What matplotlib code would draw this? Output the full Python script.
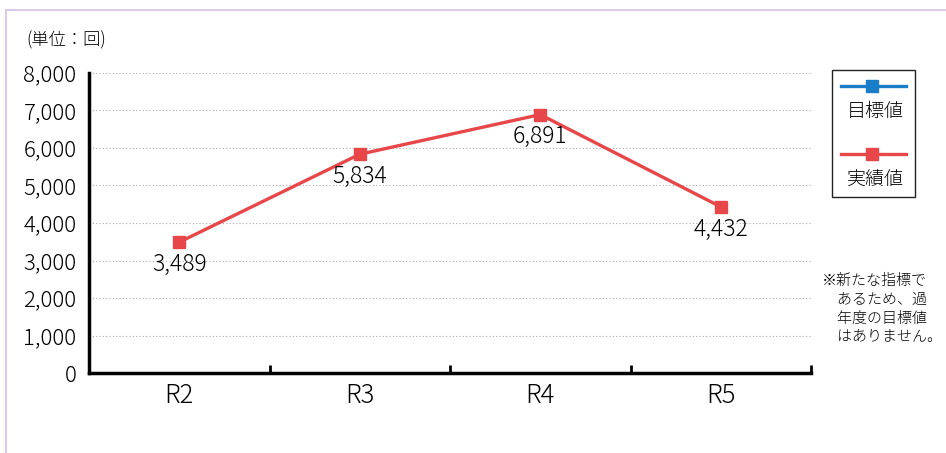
import matplotlib
matplotlib.use("Agg")
import matplotlib.pyplot as plt
from matplotlib.lines import Line2D
from matplotlib.patches import Rectangle
from matplotlib.ticker import FuncFormatter

plt.rcParams['font.family'] = ['Noto Sans CJK JP', 'DejaVu Sans']
plt.rcParams['font.weight'] = 'light'

# data
years = ["R2", "R3", "R4", "R5"]
actual = [3489, 5834, 6891, 4432]
target = []  # no target values (new indicator)
y_ticks = [0, 1000, 2000, 3000, 4000, 5000, 6000, 7000, 8000]

RED = "#e8474a"
BLUE = "#1a7dc8"

fig = plt.figure(figsize=(9.46, 4.53), dpi=100)
W, H = 946, 453
ax = fig.add_axes([89 / W, 1 - 373 / H, (811 - 89) / W, (373 - 73) / H])

xs = [i + 0.5 for i in range(len(years))]
ax.plot(xs, actual, color=RED, lw=2.4, marker="s", markersize=9,
        markerfacecolor=RED, markeredgecolor=RED, zorder=3)
for x, v in zip(xs, actual):
    ax.annotate(f"{v:,}", (x, v), xytext=(0, -16), textcoords="offset points",
                ha="center", va="center", fontsize=16.5)

ax.set_xlim(0, len(years))
ax.set_ylim(0, 8000)
ax.set_yticks(y_ticks)
ax.yaxis.set_major_formatter(FuncFormatter(lambda v, p: f"{int(v):,}"))
ax.tick_params(axis="y", length=0, labelsize=16, pad=9)
ax.set_xticks(range(len(years) + 1))
ax.set_xticklabels([])
ax.set_xticks(xs, minor=True)
ax.set_xticklabels(years, minor=True, fontsize=18.5)
ax.tick_params(axis="x", which="major", direction="in", length=6, width=2)
ax.tick_params(axis="x", which="minor", length=0, pad=7)

for s in ["top", "right"]:
    ax.spines[s].set_visible(False)
for s in ["left", "bottom"]:
    ax.spines[s].set_linewidth(2.5)
ax.grid(axis="y", color="#aaaaaa", linestyle=(0, (1, 2)), linewidth=0.8)
ax.set_axisbelow(True)

# unit label
fig.text(26 / W, 1 - 40 / H, "(単位：回)", fontsize=12.4, va="center", ha="left")

# legend box
fig.patches.append(Rectangle((832 / W, 1 - 197 / H), (915 - 832) / W, (197 - 70) / H,
                             transform=fig.transFigure, fill=False, edgecolor="#222222",
                             linewidth=1.0))
for y_line, y_text, col, lab in [(86, 112, BLUE, "目標値"), (154, 180, RED, "実績値")]:
    fig.lines.append(Line2D([841 / W, 906 / W], [1 - y_line / H] * 2, transform=fig.transFigure,
                            color=col, lw=2.4))
    fig.lines.append(Line2D([872 / W], [1 - y_line / H], transform=fig.transFigure,
                            color=col, marker="s", markersize=9, linestyle="none"))
    fig.text(875 / W, 1 - y_text / H, lab, fontsize=13.7, ha="center", va="center")

# note
note = "※新たな指標で\n　あるため、過\n　年度の目標値\n　はありません。"
fig.text(822 / W, 1 - 274 / H, note, fontsize=10.8, ha="left", va="top", linespacing=1.4)

# outer frame lines
fig.lines.append(Line2D([6 / W, 1], [1 - 10 / H] * 2, transform=fig.transFigure,
                        color="#dccbe8", lw=1.5))
fig.lines.append(Line2D([6 / W] * 2, [0, 1 - 10 / H], transform=fig.transFigure,
                        color="#dccbe8", lw=1.5))

fig.savefig("out.png", dpi=100)
